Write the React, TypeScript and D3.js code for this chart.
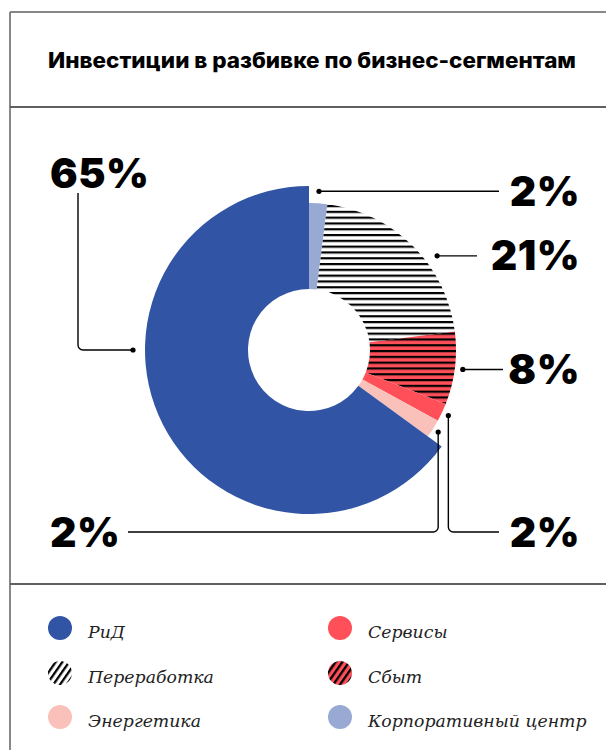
import React from 'react';
import * as d3 from 'd3';

const title = 'Инвестиции в разбивке по бизнес-сегментам';
const categories = ['Корпоративный центр', 'Переработка', 'Сбыт', 'Сервисы', 'Энергетика', 'РиД'];
const values = [2, 21, 8, 2, 2, 65];
const percentLabels = ['2%', '21%', '8%', '2%', '2%', '65%'];
const legendCol1 = ['РиД', 'Переработка', 'Энергетика'];
const legendCol2 = ['Сервисы', 'Сбыт', 'Корпоративный центр'];

const W = 606;
const H = 750;
const cx = 309;
const cy = 350;
const innerR = 61;

const styleFor: Record<string, { fill: string; outer: number; legendFill: string }> = {
  'РиД': { fill: '#3155a4', outer: 164, legendFill: '#3155a4' },
  'Переработка': { fill: 'url(#hatchWhite)', outer: 147, legendFill: 'url(#diagWhite)' },
  'Сбыт': { fill: 'url(#hatchRed)', outer: 147, legendFill: 'url(#diagRed)' },
  'Сервисы': { fill: '#ff505a', outer: 147, legendFill: '#ff505a' },
  'Энергетика': { fill: '#f9c1b9', outer: 147, legendFill: '#f9c1b9' },
  'Корпоративный центр': { fill: '#98aad3', outer: 147, legendFill: '#98aad3' },
};

// leader-line layout: anchor angle (deg, null = slice middle), anchor radius, kind
const leaderLayout = [
  { angle: null, r: 159, kind: 'right', endX: 499 },
  { angle: 53.7, r: 159, kind: 'right', endX: 477 },
  { angle: null, r: 155, kind: 'right', endX: 503 },
  { angle: null, r: 154, kind: 'downRight', endX: 499 },
  { angle: null, r: 153, kind: 'downLeft', endX: 128 },
  { angle: 270, r: 176, kind: 'leftUp', endX: 78 },
];

const bottomY = 532;
const labelRightX = 580;
const labelLeftX = 50;
const topLabelY = 173;
const pctFont = '"Inter", "Roboto", sans-serif';

export default function App() {
  const pie = d3.pie<number>().sort(null).value((d) => d).startAngle(0).endAngle(2 * Math.PI);
  const arcs = pie(values);
  const arcGen = d3.arc<d3.PieArcDatum<number>>().innerRadius(innerR);

  const leaders = arcs.map((a, i) => {
    const L = leaderLayout[i];
    const angDeg = L.angle === null ? ((a.startAngle + a.endAngle) / 2) * 180 / Math.PI : L.angle;
    const ang = (angDeg * Math.PI) / 180;
    const ax = cx + L.r * Math.sin(ang);
    const ay = cy - L.r * Math.cos(ang);
    const p = d3.path();
    let tx = labelRightX;
    let ty = ay;
    let anchor = 'end';
    const rc = 5;
    p.moveTo(ax, ay);
    if (L.kind === 'right') {
      p.lineTo(L.endX, ay);
    } else if (L.kind === 'downRight') {
      p.arcTo(ax, bottomY, ax + rc, bottomY, rc);
      p.lineTo(L.endX, bottomY);
      ty = bottomY;
    } else if (L.kind === 'downLeft') {
      p.arcTo(ax, bottomY, ax - rc, bottomY, rc);
      p.lineTo(L.endX, bottomY);
      ty = bottomY;
      tx = labelLeftX;
      anchor = 'start';
    } else {
      p.arcTo(L.endX, ay, L.endX, ay - rc, rc);
      p.lineTo(L.endX, 193);
      ty = topLabelY;
      tx = labelLeftX;
      anchor = 'start';
    }
    return { ax, ay, d: p.toString(), tx, ty, anchor, text: percentLabels[i] };
  });

  const legendRows = [628, 673, 717];

  return (
    <svg width={W} height={H} style={{ position: 'absolute', left: 0, top: 0, background: '#fff' }}>
      <defs>
        <pattern id="hatchWhite" patternUnits="userSpaceOnUse" width={10} height={5.8}>
          <rect width={10} height={5.8} fill="#fff" />
          <rect y={0} width={10} height={2.2} fill="#000" />
        </pattern>
        <pattern id="hatchRed" patternUnits="userSpaceOnUse" width={10} height={5.8}>
          <rect width={10} height={5.8} fill="#ff505a" />
          <rect y={0} width={10} height={2.2} fill="#000" />
        </pattern>
        <pattern id="diagWhite" patternUnits="userSpaceOnUse" width={5.5} height={10} patternTransform="rotate(35)">
          <rect width={5.5} height={10} fill="#fff" />
          <rect x={0} width={2.3} height={10} fill="#000" />
        </pattern>
        <pattern id="diagRed" patternUnits="userSpaceOnUse" width={5.5} height={10} patternTransform="rotate(35)">
          <rect width={5.5} height={10} fill="#ff505a" />
          <rect x={0} width={2.3} height={10} fill="#000" />
        </pattern>
      </defs>

      {/* frame */}
      <g stroke="#606060" fill="none">
        <line x1={10} y1={12} x2={W} y2={12} strokeWidth={1.5} />
        <line x1={10} y1={12} x2={10} y2={H} strokeWidth={1.5} />
        <line x1={10} y1={107} x2={W} y2={107} strokeWidth={2} />
        <line x1={10} y1={584} x2={W} y2={584} strokeWidth={2} />
      </g>

      <text x={48} y={68} textLength={528} lengthAdjust="spacingAndGlyphs" fontFamily='"Inter", "Roboto", sans-serif' fontWeight={800} fontSize={21} fill="#000">
        {title}
      </text>

      {/* donut */}
      <g transform={`translate(${cx},${cy})`}>
        {arcs.map((a, i) => (
          <path key={categories[i]} d={arcGen.outerRadius(styleFor[categories[i]].outer)(a) || ''} fill={styleFor[categories[i]].fill} />
        ))}
      </g>

      {/* leaders and labels */}
      {leaders.map((l, i) => (
        <g key={i}>
          <path d={l.d} fill="none" stroke="#000" strokeWidth={1.4} />
          <circle cx={l.ax} cy={l.ay} r={2.6} fill="#000" />
          <text x={l.tx} y={l.ty + 14.5} textAnchor={l.anchor} fontFamily={pctFont} fontWeight={900} fontSize={41} letterSpacing={0.5} fill="#000">
            {l.text}
          </text>
        </g>
      ))}

      {/* legend */}
      {[legendCol1, legendCol2].map((col, ci) =>
        col.map((name, ri) => (
          <g key={name} transform={`translate(${ci === 0 ? 60 : 340},${legendRows[ri]})`}>
            <circle r={12} fill={styleFor[name].legendFill} />
            <text x={28} y={10} fontFamily='"DejaVu Serif", serif' fontStyle="italic" fontSize={17.3} fill="#222">
              {name}
            </text>
          </g>
        ))
      )}
    </svg>
  );
}
